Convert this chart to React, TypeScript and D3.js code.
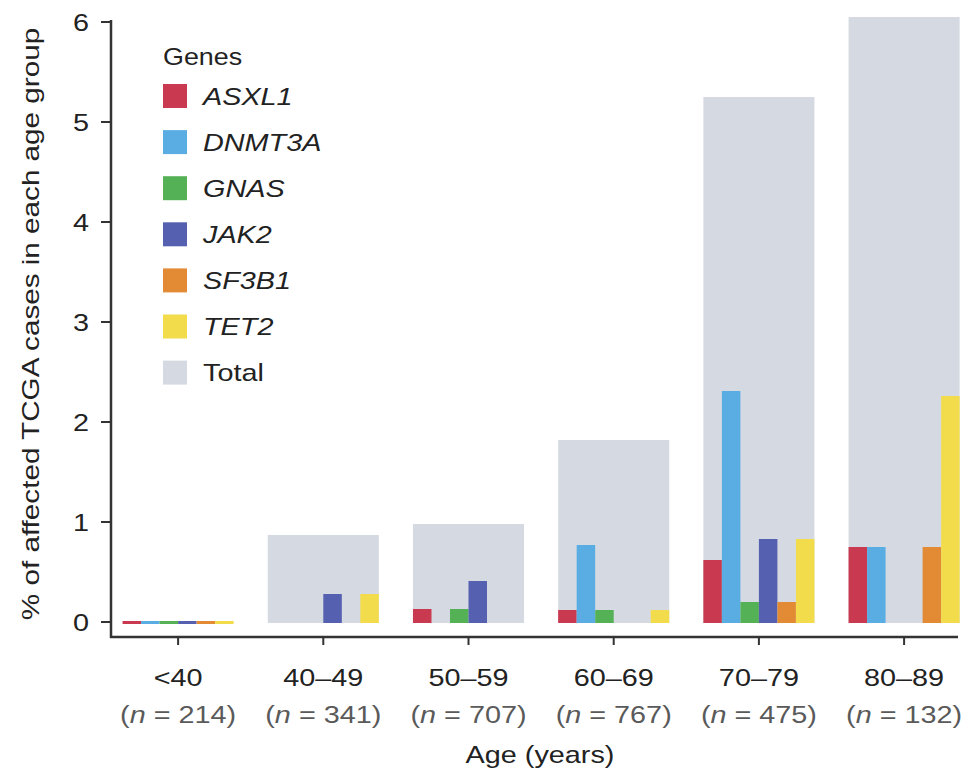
import React from 'react';
import * as d3 from 'd3';

// age groups and their sample sizes
const ageGroups = ['<40', '40–49', '50–59', '60–69', '70–79', '80–89'];
const groupSizes = [214, 341, 707, 767, 475, 132];

const genes = ['ASXL1', 'DNMT3A', 'GNAS', 'JAK2', 'SF3B1', 'TET2'];
const geneColors = ['#c9394f', '#5aade3', '#55b156', '#5560b0', '#e38a35', '#f2dc4c'];
const totalColor = '#d5dae2';

// % of affected cases per gene, one array per age group (same order as genes)
// <40 has no cases, drawn as a thin strip on the baseline
const under40 = [0.03, 0.03, 0.03, 0.03, 0.03, 0.03];
const age40s = [0, 0, 0, 0.29, 0, 0.29];
const age50s = [0.14, 0, 0.14, 0.42, 0, 0];
const age60s = [0.13, 0.78, 0.13, 0, 0, 0.13];
const age70s = [0.63, 2.32, 0.21, 0.84, 0.21, 0.84];
const age80s = [0.76, 0.76, 0, 0, 0.76, 2.27];
const geneValues = [under40, age40s, age50s, age60s, age70s, age80s];

// % of cases with any mutation
const totals = [0, 0.88, 0.99, 1.83, 5.26, 6.06];

const yTicks = [0, 1, 2, 3, 4, 5, 6];

const W = 970;
const H = 773;
const font = '"Liberation Sans", Arial, Helvetica, sans-serif';
const FS = 24;
const STRETCH = 1.2; // the original type is set wide

// text drawn at (x, y) and stretched horizontally around its anchor
const Wide = ({ x, y, anchor = 'start', fill = '#222', italic = false, rotate = 0, sx = STRETCH, size = FS, children }: any) => (
    <text
        transform={`translate(${x},${y}) rotate(${rotate}) scale(${sx},1)`}
        textAnchor={anchor}
        fontSize={size}
        fontStyle={italic ? 'italic' : 'normal'}
        fill={fill}
    >
        {children}
    </text>
);

const App = () => {
    const x = d3.scaleBand<string>()
        .domain(ageGroups)
        .range([105.5, 976.7])
        .paddingInner(0.235)
        .paddingOuter(0.1175);

    const xGene = d3.scaleBand<string>()
        .domain(genes)
        .range([0, x.bandwidth()]);

    const y = d3.scaleLinear().domain([0, 6]).range([623, 23]);

    const axisX = 111;
    const axisY = 637;

    return (
        <svg width={W} height={H} style={{ position: 'absolute', left: 0, top: 0, fontFamily: font }}>
            <rect width={W} height={H} fill="#fff" />

            {/* total bars behind gene bars */}
            {ageGroups.map((g, i) => (
                totals[i] > 0 && (
                    <rect key={'t' + g}
                        x={x(g)} y={y(totals[i])}
                        width={x.bandwidth()} height={y(0) - y(totals[i])}
                        fill={totalColor} />
                )
            ))}

            {ageGroups.map((g, i) => (
                <g key={'g' + g} transform={`translate(${x(g)},0)`}>
                    {genes.map((gene, j) => {
                        const v = geneValues[i][j];
                        if (v <= 0) return null;
                        const top = i === 0 ? y(0) - 2 : y(v);
                        const h = i === 0 ? 3 : y(0) - y(v);
                        return (
                            <rect key={gene}
                                x={xGene(gene)} y={top}
                                width={xGene.bandwidth()} height={h}
                                fill={geneColors[j]} />
                        );
                    })}
                </g>
            ))}

            {/* y axis */}
            <line x1={axisX} x2={axisX} y1={20} y2={axisY + 1} stroke="#333" strokeWidth={2.5} />
            {yTicks.map(t => (
                <g key={'y' + t}>
                    <line x1={axisX - 10} x2={axisX} y1={y(t) - 1} y2={y(t) - 1} stroke="#333" strokeWidth={2} />
                    <Wide x={axisX - 22} y={y(t) + 8} anchor="end">{t}</Wide>
                </g>
            ))}
            <Wide x={39} y={324} anchor="middle" rotate={-90} sx={1.29} size={23}>
                % of affected TCGA cases in each age group
            </Wide>

            {/* x axis */}
            <line x1={axisX - 1} x2={958} y1={axisY} y2={axisY} stroke="#333" strokeWidth={2.5} />
            {ageGroups.map((g, i) => {
                const cx = (x(g) ?? 0) + x.bandwidth() / 2;
                return (
                    <g key={'x' + g}>
                        <line x1={cx} x2={cx} y1={axisY} y2={axisY + 8} stroke="#333" strokeWidth={2} />
                        <Wide x={cx} y={686} anchor="middle">{g}</Wide>
                        <Wide x={cx} y={723} anchor="middle" fill="#5a5a5a">
                            (<tspan fontStyle="italic">n</tspan> = {groupSizes[i]})
                        </Wide>
                    </g>
                );
            })}
            <Wide x={540} y={763} anchor="middle">Age (years)</Wide>

            {/* legend */}
            <g transform="translate(163,0)">
                <Wide x={0} y={65} sx={1.12}>Genes</Wide>
                {genes.map((gene, j) => (
                    <g key={'l' + gene}>
                        <rect x={0} y={84 + j * 46.1} width={24} height={24} fill={geneColors[j]} />
                        <Wide x={40} y={104.5 + j * 46.1} italic>{gene}</Wide>
                    </g>
                ))}
                <rect x={0} y={84 + 6 * 46.1} width={24} height={24} fill={totalColor} />
                <Wide x={40} y={104.5 + 6 * 46.1}>Total</Wide>
            </g>
        </svg>
    );
};

export default App;
